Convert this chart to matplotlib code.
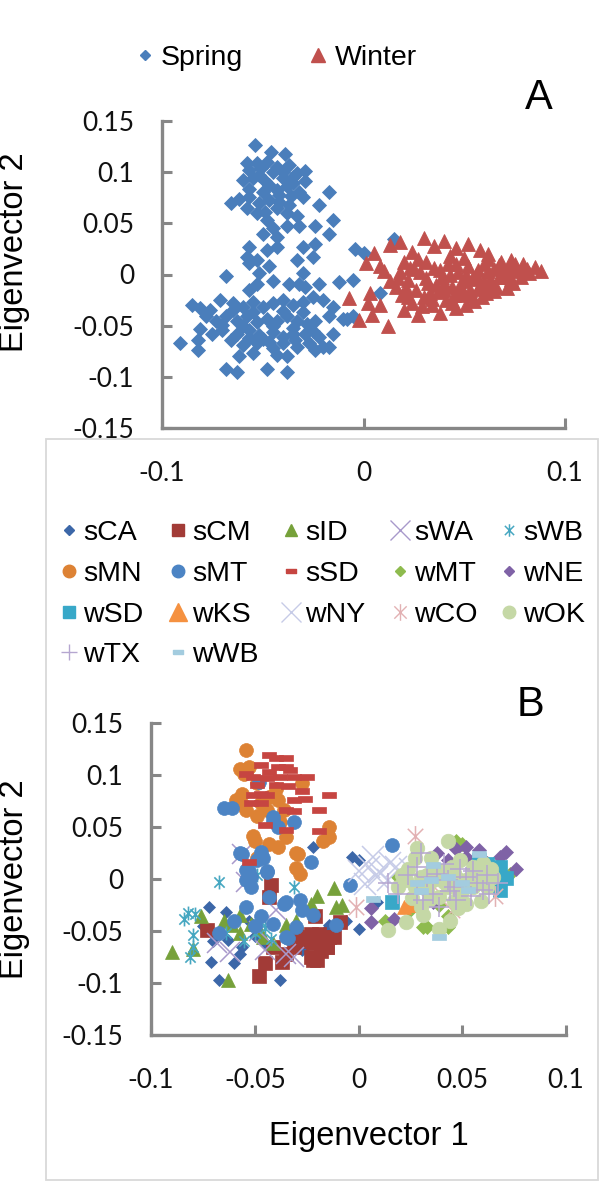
import matplotlib
matplotlib.use("Agg")
import matplotlib.pyplot as plt
from matplotlib.patches import Rectangle
from matplotlib.path import Path
from matplotlib.ticker import FuncFormatter

# ---------- panel A data ----------
spring_a = [
    (-0.054, 0.127), (-0.046, 0.120), (-0.039, 0.118),
    (-0.058, 0.109), (-0.053, 0.109), (-0.048, 0.110),
    (-0.057, 0.102), (-0.051, 0.104), (-0.043, 0.105), (-0.037, 0.107), (-0.033, 0.099), (-0.029, 0.101),
    (-0.060, 0.092), (-0.055, 0.094), (-0.049, 0.091), (-0.040, 0.094), (-0.035, 0.089), (-0.029, 0.091),
    (-0.057, 0.084), (-0.050, 0.081), (-0.043, 0.083), (-0.038, 0.086), (-0.032, 0.081),
    (-0.066, 0.070), (-0.062, 0.074), (-0.057, 0.076), (-0.052, 0.070), (-0.047, 0.073), (-0.042, 0.071),
    (-0.037, 0.068), (-0.030, 0.076), (-0.017, 0.081), (-0.022, 0.068),
    (-0.058, 0.065), (-0.049, 0.061), (-0.043, 0.065), (-0.038, 0.060), (-0.033, 0.057),
    (-0.048, 0.053), (-0.038, 0.047), (-0.032, 0.047), (-0.024, 0.047), (-0.015, 0.053), (-0.017, 0.040),
    (-0.050, 0.040), (-0.043, 0.037),
    (-0.045, 0.100), (-0.040, 0.100), (-0.052, 0.097), (-0.035, 0.095), (-0.047, 0.087), (-0.042, 0.078),
    (-0.036, 0.077), (-0.053, 0.060), (-0.045, 0.045),
    (-0.057, 0.027), (-0.058, 0.017), (-0.053, 0.014), (-0.048, 0.024), (-0.043, 0.027), (-0.047, 0.008),
    (-0.052, 0.001), (-0.057, 0.011), (-0.030, 0.027), (-0.033, 0.014), (-0.025, 0.017), (-0.024, 0.030),
    (-0.030, 0.001), (-0.032, -0.009), (-0.068, -0.001),
    (-0.053, -0.009), (-0.045, -0.006), (-0.037, -0.009), (-0.029, -0.012), (-0.022, -0.009), (-0.057, -0.015),
    (-0.012, -0.007), (-0.005, -0.005), (-0.004, 0.025), (0.000, 0.021), (0.015, 0.035),
    (-0.085, -0.030), (-0.081, -0.033), (-0.076, -0.035), (-0.071, -0.025),
    (-0.065, -0.028), (-0.060, -0.032), (-0.055, -0.027), (-0.050, -0.032), (-0.045, -0.028), (-0.040, -0.025),
    (-0.035, -0.030), (-0.030, -0.027), (-0.025, -0.022), (-0.020, -0.025), (-0.015, -0.032),
    (-0.078, -0.041), (-0.073, -0.045), (-0.068, -0.041), (-0.063, -0.045), (-0.058, -0.041), (-0.053, -0.046),
    (-0.048, -0.043), (-0.043, -0.045), (-0.038, -0.041), (-0.033, -0.045), (-0.028, -0.048), (-0.024, -0.045),
    (-0.017, -0.041), (-0.010, -0.043), (-0.005, -0.041),
    (-0.081, -0.053), (-0.075, -0.058), (-0.070, -0.054), (-0.063, -0.058), (-0.057, -0.054), (-0.052, -0.059),
    (-0.045, -0.056), (-0.040, -0.061), (-0.035, -0.058), (-0.029, -0.058), (-0.022, -0.061), (-0.015, -0.058),
    (-0.091, -0.067), (-0.082, -0.064), (-0.082, -0.074), (-0.066, -0.064), (-0.060, -0.069), (-0.053, -0.067),
    (-0.047, -0.066), (-0.040, -0.067), (-0.033, -0.071), (-0.027, -0.067), (-0.020, -0.071), (-0.062, -0.080),
    (-0.055, -0.077), (-0.043, -0.079), (-0.038, -0.080), (-0.024, -0.074), (-0.017, -0.071),
    (-0.068, -0.092), (-0.063, -0.095), (-0.048, -0.092), (-0.038, -0.095),
    (0.008, -0.018), (-0.008, -0.043),
    (-0.055, -0.037), (-0.045, -0.050), (-0.035, -0.052), (-0.060, -0.050), (-0.050, -0.063), (-0.040, -0.036),
    (-0.030, -0.037), (-0.025, -0.055), (-0.065, -0.035), (-0.070, -0.049), (-0.045, -0.072), (-0.034, -0.064),
    (-0.057, -0.062),
]

winter_a = [
    (-0.007, -0.023), (-0.002, -0.044), (0.004, -0.040), (0.003, -0.018), (0.002, -0.028), (0.001, 0.011),
    (0.005, 0.021), (0.008, 0.008), (0.013, 0.029), (0.012, -0.050), (0.013, -0.006), (0.008, -0.030),
    (0.010, 0.003),
    (0.018, 0.032), (0.024, 0.022), (0.030, 0.036), (0.035, 0.028), (0.040, 0.033), (0.046, 0.026),
    (0.052, 0.030), (0.058, 0.024), (0.062, 0.020), (0.020, 0.012), (0.027, 0.015), (0.043, 0.018),
    (0.050, 0.016),
    (0.016, -0.012), (0.019, -0.020), (0.022, -0.005), (0.024, -0.028), (0.026, -0.015), (0.028, 0.002),
    (0.030, -0.022), (0.032, -0.008), (0.034, -0.030), (0.035, 0.006), (0.037, -0.017), (0.039, -0.002),
    (0.041, -0.025), (0.042, 0.010), (0.044, -0.012), (0.046, -0.033), (0.047, 0.002), (0.049, -0.020),
    (0.050, -0.006), (0.052, 0.008), (0.053, -0.015), (0.055, -0.026), (0.056, 0.000), (0.058, -0.010),
    (0.060, 0.010), (0.061, -0.018), (0.063, -0.004), (0.065, 0.005), (0.066, -0.012), (0.068, 0.012),
    (0.070, -0.002), (0.072, 0.006), (0.074, -0.008), (0.076, 0.003), (0.079, 0.010), (0.082, 0.001),
    (0.085, 0.007), (0.088, 0.003),
    (0.020, -0.035), (0.027, -0.040), (0.033, -0.018), (0.038, -0.038), (0.043, 0.000), (0.045, -0.020),
    (0.048, -0.010), (0.051, -0.030), (0.054, -0.004), (0.057, 0.004), (0.059, -0.022), (0.062, 0.015),
    (0.064, -0.010), (0.067, -0.002), (0.069, 0.004), (0.071, -0.013), (0.073, 0.014), (0.036, -0.010),
    (0.040, -0.015), (0.031, 0.012), (0.025, 0.005), (0.018, 0.002), (0.022, -0.022),
    (0.017, -0.003), (0.021, -0.013), (0.023, 0.006), (0.029, -0.031), (0.031, -0.003), (0.034, -0.024),
    (0.038, 0.004), (0.040, -0.008), (0.044, -0.028), (0.046, 0.010), (0.049, -0.016), (0.051, 0.000),
    (0.054, -0.021), (0.057, -0.014), (0.060, -0.006), (0.062, 0.003), (0.065, -0.016), (0.067, 0.009),
    (0.070, 0.000), (0.073, -0.004), (0.075, 0.010), (0.078, -0.002), (0.081, 0.005),
]

# ---------- panel B data (per sample group) ----------
sCA = [(-0.072, -0.027), (-0.064, -0.032), (-0.071, -0.080), (-0.060, -0.081), (-0.067, -0.097), (-0.038, -0.097),
       (-0.022, 0.031), (-0.014, -0.044), (-0.056, -0.065), (-0.063, -0.059), (-0.057, -0.072), (-0.027, -0.068),
       (-0.003, 0.021), (0.000, 0.018), (0.009, -0.022), (0.000, -0.048), (-0.014, -0.046), (-0.075, -0.045),
       (-0.050, -0.055), (-0.045, -0.062), (-0.053, -0.040), (-0.070, -0.060), (-0.006, -0.040)]
sCM = [(-0.042, -0.006), (-0.043, -0.017), (-0.073, -0.049), (-0.045, -0.081), (-0.037, -0.080), (-0.048, -0.093),
       (-0.030, -0.053), (-0.025, -0.056), (-0.022, -0.062), (-0.019, -0.053), (-0.015, -0.065), (-0.012, -0.056),
       (-0.023, -0.075), (-0.020, -0.078), (-0.031, -0.065), (-0.021, -0.036), (-0.041, -0.065), (-0.009, -0.041),
       (-0.023, -0.053), (-0.014, -0.056), (-0.018, -0.069), (-0.022, -0.078), (-0.015, -0.065), (-0.028, -0.060),
       (-0.035, -0.072)]
sID = [(-0.090, -0.070), (-0.080, -0.067), (-0.063, -0.097), (-0.076, -0.036), (-0.057, -0.035), (-0.012, -0.009),
       (-0.020, -0.016), (-0.023, -0.024), (-0.011, -0.027), (-0.035, -0.044), (-0.041, -0.062), (-0.057, -0.052),
       (-0.052, -0.043), (-0.046, -0.056), (-0.008, -0.025), (-0.030, -0.040), (-0.061, -0.044), (-0.048, -0.048),
       (-0.065, -0.040)]
sWA = [(-0.054, -0.003), (-0.068, -0.062), (-0.031, -0.075), (-0.035, -0.072), (-0.056, 0.024), (-0.048, -0.050),
       (-0.040, -0.030), (-0.062, -0.070), (-0.045, -0.068)]
sWB = [(-0.067, -0.003), (-0.082, -0.033), (-0.079, -0.034), (-0.080, -0.054), (-0.081, -0.075), (-0.080, -0.065),
       (-0.031, -0.008), (-0.049, 0.004), (-0.064, -0.052), (-0.050, -0.052), (-0.045, -0.047), (-0.055, -0.060),
       (-0.042, -0.058), (-0.047, -0.041), (-0.084, -0.038)]
sMN = [(-0.054, 0.124), (-0.057, 0.106), (-0.053, 0.108), (-0.055, 0.101), (-0.049, 0.092), (-0.027, 0.092),
       (-0.059, 0.076), (-0.054, 0.066), (-0.047, 0.073), (-0.043, 0.079), (-0.039, 0.076), (-0.049, 0.061),
       (-0.044, 0.066), (-0.036, 0.066), (-0.038, 0.055), (-0.050, 0.037), (-0.043, 0.034), (-0.039, 0.031),
       (-0.035, 0.040), (-0.029, 0.024), (-0.030, 0.011), (-0.028, 0.005), (-0.014, 0.050), (-0.017, 0.037),
       (-0.014, 0.040), (-0.051, 0.041), (-0.049, 0.020), (-0.030, 0.025), (-0.055, 0.070), (-0.040, 0.087),
       (-0.056, 0.082)]
sMT = [(-0.065, 0.068), (-0.061, 0.068), (-0.048, 0.093), (-0.041, 0.056), (-0.031, 0.055), (-0.039, 0.050),
       (-0.041, 0.060), (-0.023, 0.016), (-0.056, 0.024), (-0.047, 0.026), (-0.049, 0.018), (-0.044, 0.008),
       (-0.053, 0.008), (-0.054, -0.001), (-0.057, 0.025), (-0.046, 0.020), (-0.054, 0.009), (-0.052, 0.002),
       (-0.044, 0.007), (-0.052, -0.008), (-0.054, -0.027), (-0.043, -0.017), (-0.036, -0.024), (-0.028, -0.020),
       (-0.027, -0.030), (-0.022, -0.035), (-0.047, -0.036), (-0.041, -0.043), (-0.035, -0.056), (-0.067, -0.052),
       (-0.011, -0.044), (-0.004, -0.006), (0.016, 0.033), (-0.035, -0.022), (-0.034, -0.057), (-0.060, -0.040),
       (-0.050, -0.045), (-0.030, -0.046)]
sSD = [(-0.043, 0.119), (-0.040, 0.116), (-0.035, 0.116), (-0.047, 0.110), (-0.039, 0.108), (-0.035, 0.108),
       (-0.033, 0.105), (-0.054, 0.101), (-0.051, 0.098), (-0.044, 0.097), (-0.038, 0.098), (-0.031, 0.098),
       (-0.025, 0.098), (-0.034, 0.089), (-0.027, 0.085), (-0.051, 0.081), (-0.047, 0.082), (-0.044, 0.081),
       (-0.052, 0.073), (-0.047, 0.073), (-0.031, 0.076), (-0.026, 0.077), (-0.014, 0.081), (-0.035, 0.066),
       (-0.031, 0.065), (-0.019, 0.066), (-0.045, 0.052), (-0.035, 0.047), (-0.019, 0.046), (-0.053, 0.016),
       (-0.040, 0.090), (-0.043, 0.103), (-0.049, 0.090)]
wMT = [(0.033, -0.046), (0.031, -0.046), (0.043, -0.036), (0.043, -0.046), (0.013, -0.040), (0.047, 0.037),
       (0.050, 0.034), (0.073, 0.005), (0.019, 0.002), (0.039, -0.025), (0.025, -0.030)]
wNE = [(0.038, 0.025), (0.047, 0.029), (0.052, 0.031), (0.058, 0.028), (0.071, 0.026), (0.068, 0.021),
       (0.076, 0.010), (0.006, -0.028), (0.006, -0.041), (0.017, -0.038), (0.036, -0.022), (0.062, 0.015),
       (0.052, 0.021), (0.043, 0.018)]
wSD = [(0.016, -0.022), (0.068, 0.012), (0.071, 0.001), (0.068, -0.011), (0.058, 0.018), (0.062, 0.014),
       (0.066, 0.008)]
wKS = [(0.024, -0.025), (0.026, -0.022), (0.028, -0.025), (0.022, -0.027)]
wNY = [(0.000, 0.008), (0.005, 0.012), (0.009, 0.002), (0.015, 0.015), (0.014, -0.001), (0.007, 0.021),
       (0.010, 0.007), (0.018, 0.012), (0.003, -0.005), (0.025, 0.010)]
wCO = [(0.027, 0.041), (-0.001, -0.027), (0.045, -0.030), (0.066, -0.016), (0.046, -0.014), (0.035, -0.005)]
wOK = [(0.027, 0.020), (0.043, 0.037), (0.023, -0.001), (0.030, 0.002), (0.036, -0.001), (0.043, -0.008),
       (0.049, -0.001), (0.055, -0.008), (0.059, 0.005), (0.065, 0.002), (0.033, -0.011), (0.039, -0.017),
       (0.046, -0.021), (0.052, -0.024), (0.059, -0.021), (0.023, -0.041), (0.014, -0.049), (0.039, -0.048),
       (0.060, 0.015), (0.030, -0.027), (0.019, -0.008), (0.027, -0.008), (0.036, 0.012), (0.049, 0.018),
       (0.055, 0.012), (0.062, -0.008), (0.046, 0.006), (0.040, 0.008), (0.033, 0.004), (0.050, -0.012),
       (0.024, 0.010), (0.021, 0.004), (0.026, -0.018), (0.031, -0.035), (0.035, 0.020), (0.041, -0.003),
       (0.045, 0.012), (0.048, -0.028), (0.053, 0.000), (0.057, 0.010), (0.061, -0.002), (0.064, 0.010),
       (0.044, -0.040), (0.028, 0.030), (0.034, -0.020)]
wTX = [(0.014, -0.004), (0.028, 0.012), (0.033, 0.002), (0.038, 0.005), (0.043, -0.001), (0.046, -0.008),
       (0.052, 0.002), (0.057, -0.004), (0.060, -0.011), (0.063, -0.014), (0.039, -0.027), (0.047, -0.020),
       (0.036, -0.014), (0.028, -0.014), (0.019, -0.014), (0.030, 0.025), (0.055, 0.008), (0.024, 0.004),
       (0.041, 0.014), (0.049, 0.010), (0.054, -0.016), (0.062, 0.004), (0.044, -0.012), (0.031, -0.020),
       (0.067, -0.004)]
wWB = [(0.036, 0.013), (0.028, -0.004), (0.035, -0.001), (0.050, -0.004), (0.053, -0.011), (0.007, -0.019),
       (0.039, -0.056), (0.043, 0.002), (0.030, -0.012), (0.058, 0.024)]

group_names = ["sCA", "sCM", "sID", "sWA", "sWB", "sMN", "sMT", "sSD", "wMT", "wNE",
               "wSD", "wKS", "wNY", "wCO", "wOK", "wTX", "wWB"]
group_data = [sCA, sCM, sID, sWA, sWB, sMN, sMT, sSD, wMT, wNE, wSD, wKS, wNY, wCO, wOK, wTX, wWB]

y_ticks = [-0.15, -0.1, -0.05, 0, 0.05, 0.1, 0.15]
xa_ticks = [-0.1, 0, 0.1]
xb_ticks = [-0.1, -0.05, 0, 0.05, 0.1]

# ---------- styles ----------
dash = [(-1, -0.38), (1, -0.38), (1, 0.38), (-1, 0.38), (-1, -0.38)]
star = Path([(-1, -1), (1, 1), (-1, 1), (1, -1), (0, -1.35), (0, 1.35)],
            [Path.MOVETO, Path.LINETO, Path.MOVETO, Path.LINETO, Path.MOVETO, Path.LINETO])

# marker, size in plot, colour, line width (0 = filled), size in legend
styles = {
    "sCA": ("D", 6.6, "#3C67A8", 0, 5.6),
    "sCM": ("s", 9.5, "#A23B37", 0, 8.5),
    "sID": ("^", 9.5, "#76A13A", 0, 9.0),
    "sWA": ("x", 15, "#A899CB", 1.1, 14),
    "sWB": (star, 10, "#46A7C1", 1.2, 9),
    "sMN": ("o", 10, "#DD8234", 0, 9),
    "sMT": ("o", 10, "#4C84C4", 0, 9),
    "sSD": (dash, 9.5, "#C64541", 0, 7.5),
    "wMT": ("D", 6.8, "#8EBB4E", 0, 5.6),
    "wNE": ("D", 6.8, "#7F62A6", 0, 5.6),
    "wSD": ("s", 9.5, "#38A8C8", 0, 8.5),
    "wKS": ("^", 9.5, "#F59140", 0, 13),
    "wNY": ("x", 16, "#C6CBE7", 1.1, 14),
    "wCO": (star, 15, "#E2B1B3", 1.1, 12),
    "wOK": ("o", 10.5, "#C5D8A6", 0, 9),
    "wTX": ("+", 15, "#B5A6D0", 1.1, 11),
    "wWB": (dash, 9.5, "#A3CCDF", 0, 7.5),
}

GRAY = "#878787"
W, H = 600, 1182
plt.rcParams["font.family"] = ["Liberation Sans", "DejaVu Sans"]

fig = plt.figure(figsize=(W / 100, H / 100), dpi=100)

# frame round panel B
fig.patches.append(Rectangle((46 / W, 1 - 1180 / H), (598 - 46) / W, (1180 - 439) / H,
                             transform=fig.transFigure, fill=False, ec="#D9D9D9", lw=1.3))


def tick_fmt(v, pos):
    v = round(v, 3)
    return "0" if v == 0 else f"{v:g}"


def make_axes(left, top, right, bottom, xticks):
    ax = fig.add_axes([left / W, 1 - bottom / H, (right - left) / W, (bottom - top) / H])
    ax.set_facecolor("none")
    ax.set_xlim(-0.1, 0.1)
    ax.set_ylim(-0.15, 0.15)
    ax.set_xticks(xticks)
    ax.set_yticks(y_ticks)
    ax.xaxis.set_major_formatter(FuncFormatter(tick_fmt))
    ax.yaxis.set_major_formatter(FuncFormatter(tick_fmt))
    for s in ["top", "right"]:
        ax.spines[s].set_visible(False)
    for s in ["left", "bottom"]:
        ax.spines[s].set_color(GRAY)
        ax.spines[s].set_linewidth(2.4)
    ax.tick_params(direction="in", length=7, width=2.2, color=GRAY, labelsize=19, labelcolor="#111111")
    ax.tick_params(axis="y", pad=20)
    ax.tick_params(axis="x", pad=24)
    for lbl in ax.get_xticklabels() + ax.get_yticklabels():
        lbl.set_family(["Lato", "DejaVu Sans"])
    return ax


# ---------- panel A ----------
axA = make_axes(162, 121, 565, 428, xa_ticks)
axA.plot([p[0] for p in spring_a], [p[1] for p in spring_a], "D", ms=7.0, color="#4A7EBB", mec="#4A7EBB",
         mew=0.6, ls="none", clip_on=False)
axA.plot([p[0] for p in winter_a], [p[1] for p in winter_a], "^", ms=10, color="#C0504D", mec="#C0504D",
         mew=0.6, ls="none", clip_on=False)

# ---------- panel B ----------
axB = make_axes(151, 723, 566, 1035, xb_ticks)
for name, pts in zip(group_names, group_data):
    mk, ms, col, lw, _ = styles[name]
    xs = [p[0] for p in pts]
    ys = [p[1] for p in pts]
    if lw:
        axB.plot(xs, ys, marker=mk, ms=ms, ls="none", color=col, mew=lw, clip_on=False)
    else:
        axB.plot(xs, ys, marker=mk, ms=ms, ls="none", color=col, mec=col, mew=0.5, clip_on=False)

# ---------- labels and legends (figure pixel overlay) ----------
ov = fig.add_axes([0, 0, 1, 1])
ov.set_facecolor("none")
ov.set_xlim(0, W)
ov.set_ylim(H, 0)
ov.axis("off")

ov.text(15, 252, "Eigenvector 2", rotation=90, fontsize=23.5, ha="center", va="center")
ov.text(15, 879, "Eigenvector 2", rotation=90, fontsize=23.5, ha="center", va="center")
ov.text(369, 1137, "Eigenvector 1", fontsize=23.5, ha="center", va="center")
ov.text(539, 98, "A", fontsize=30, ha="center", va="center")
ov.text(531, 705, "B", fontsize=30, ha="center", va="center")

# top legend
ov.plot(145, 55, "D", ms=5.6, color="#4A7EBB")
ov.text(161, 65, "Spring", fontsize=20.5, va="baseline")
ov.plot(318, 55, "^", ms=9.5, color="#C0504D")
ov.text(335, 65, "Winter", fontsize=20.5, va="baseline")

# panel B legend, 5 columns
col_x = [69, 178, 291, 400, 509]
row_y = [530, 571, 612, 652]
for i, name in enumerate(group_names):
    mk, ms, col, lw, lms = styles[name]
    mx = col_x[i % 5]
    my = row_y[i // 5]
    if lw:
        ov.plot(mx, my, marker=mk, ms=lms, color=col, mew=lw * 0.9, ls="none")
    else:
        ov.plot(mx, my, marker=mk, ms=lms, color=col, mec=col, ls="none")
    ov.text(mx + 14, my + 10, name, fontsize=20.5, va="baseline")

fig.savefig("out.png", dpi=100)
